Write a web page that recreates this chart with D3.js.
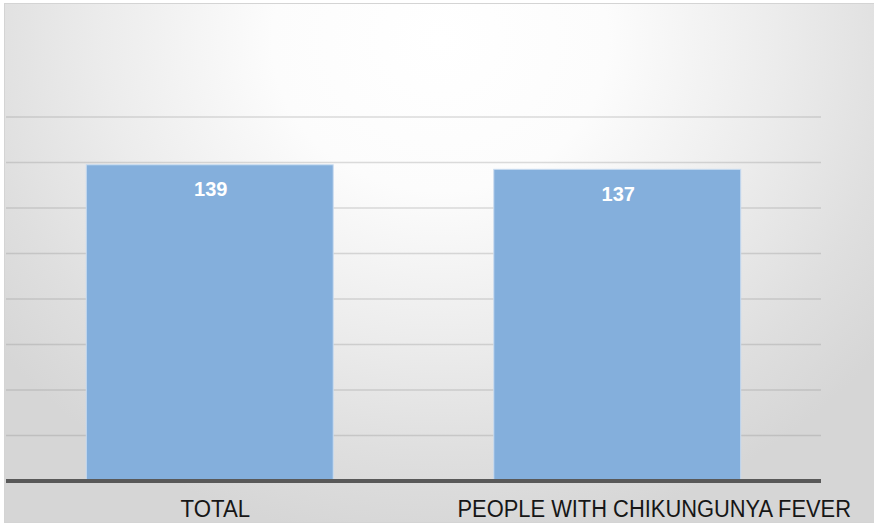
<!DOCTYPE html>
<html>
<head>
<meta charset="utf-8">
<script src="https://cdn.jsdelivr.net/npm/d3@7"></script>
<style>
  html, body { margin: 0; padding: 0; background: #ffffff; }
  svg { display: block; }
</style>
</head>
<body>
<svg id="chart" width="874" height="526"></svg>
<script>
// Chart data
const categories = ["TOTAL", "PEOPLE WITH CHIKUNGUNYA FEVER"];
const values = [139, 137];
const yTicks = [0, 20, 40, 60, 80, 100, 120, 140, 160];

const W = 874, H = 526;
const plot = { left: 6, right: 821, top: 117, bottom: 481 };

const svg = d3.select("#chart");

// Soft radial backdrop, light at the top centre, greying towards the edges
const defs = svg.append("defs");
const bg = defs.append("radialGradient")
  .attr("id", "bgGrad")
  .attr("gradientUnits", "userSpaceOnUse")
  .attr("cx", 440).attr("cy", 40)
  .attr("r", 560)
  .attr("gradientTransform", "translate(440,40) scale(1,0.9) translate(-440,-40)");
bg.append("stop").attr("offset", "0").attr("stop-color", "#ffffff");
bg.append("stop").attr("offset", "0.3").attr("stop-color", "#fcfcfc");
bg.append("stop").attr("offset", "0.6").attr("stop-color", "#ececec");
bg.append("stop").attr("offset", "0.82").attr("stop-color", "#dfdfdf");
bg.append("stop").attr("offset", "1").attr("stop-color", "#d6d6d6");

svg.append("rect")
  .attr("x", 4.5).attr("y", 3.5)
  .attr("width", W - 4).attr("height", 519)
  .attr("fill", "url(#bgGrad)")
  .attr("stroke", "#d4d4d4")
  .attr("stroke-width", 1);

// Scales
const x = d3.scaleBand()
  .domain(categories)
  .range([plot.left, plot.right])
  .paddingInner(0.394)
  .paddingOuter(0.197);

const y = d3.scaleLinear()
  .domain([0, 160])
  .range([plot.bottom, plot.top]);

// Horizontal gridlines
svg.append("g")
  .selectAll("line")
  .data(yTicks.filter(d => d > 0))
  .join("line")
  .attr("x1", plot.left).attr("x2", plot.right)
  .attr("y1", d => y(d)).attr("y2", d => y(d))
  .attr("stroke", "#8c8c8c")
  .attr("stroke-opacity", 0.3)
  .attr("stroke-width", 1.6);

// Bars
svg.append("g")
  .selectAll("rect")
  .data(values)
  .join("rect")
  .attr("x", (d, i) => x(categories[i]))
  .attr("y", d => y(d))
  .attr("width", x.bandwidth())
  .attr("height", d => y(0) - y(d))
  .attr("fill", "#84afdc")
  .attr("stroke", "#c9dcf0")
  .attr("stroke-width", 1);

// Value labels inside bars
svg.append("g")
  .selectAll("text")
  .data(values)
  .join("text")
  .attr("x", (d, i) => x(categories[i]) + x.bandwidth() / 2 + 1)
  .attr("y", d => y(d) + 31.5)
  .attr("text-anchor", "middle")
  .attr("font-family", "Liberation Sans, Arial, sans-serif")
  .attr("font-weight", "bold")
  .attr("font-size", 20)
  .attr("fill", "#ffffff")
  .text(d => d);

// Baseline
svg.append("line")
  .attr("x1", plot.left).attr("x2", plot.right)
  .attr("y1", y(0)).attr("y2", y(0))
  .attr("stroke", "#595959")
  .attr("stroke-width", 4);

// Category labels
const labelShift = [5.6, 37];
const labelWidth = [69.5, 393.5];
svg.append("g")
  .selectAll("text")
  .data(categories)
  .join("text")
  .attr("x", (d, i) => x(d) + x.bandwidth() / 2 + labelShift[i])
  .attr("y", 517.3)
  .attr("text-anchor", "middle")
  .attr("font-family", "Liberation Sans, Arial, sans-serif")
  .attr("font-size", 23)
  .attr("fill", "#161616")
  .attr("textLength", (d, i) => labelWidth[i])
  .attr("lengthAdjust", "spacingAndGlyphs")
  .text(d => d);
</script>
</body>
</html>
